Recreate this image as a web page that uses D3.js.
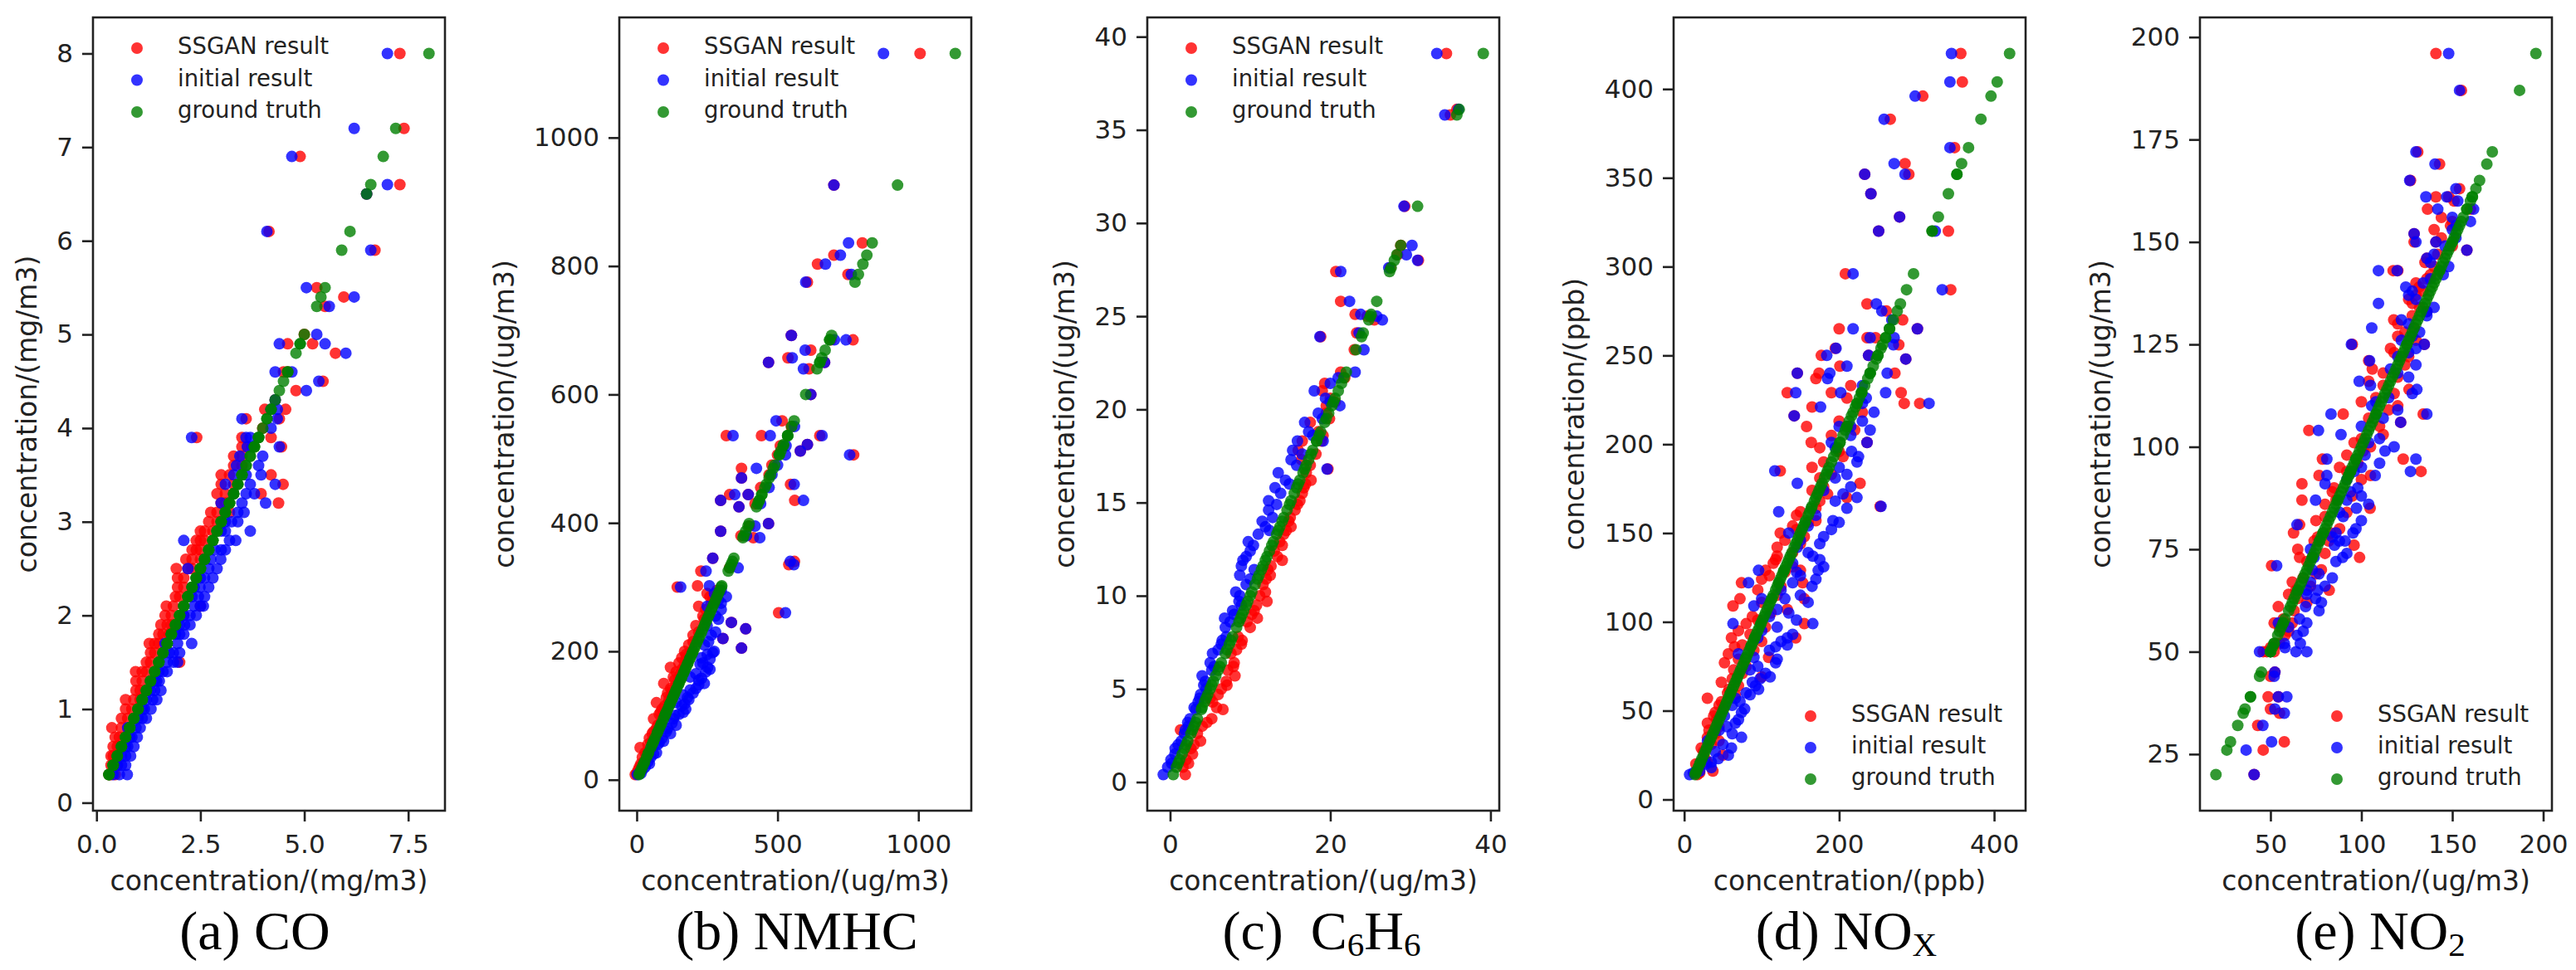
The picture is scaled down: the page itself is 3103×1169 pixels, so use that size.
<!DOCTYPE html>
<html>
<head>
<meta charset="utf-8">
<script src="https://cdn.jsdelivr.net/npm/d3@7"></script>
<style>
  body { margin: 0; background: #fff; }
</style>
</head>
<body>
<svg id="fig" width="3103" height="1169"></svg>
<script>
// rows are [ground truth, SSGAN result, initial result]
const coRows = [
  [0.3,0.35,0.55],[0.3,0.45,0.74],[0.4,0.35,0.5],[0.4,0.5,0.7],[0.5,0.5,0.82],[0.5,0.4,0.6],
  [0.6,0.4,0.7],[0.6,0.6,0.75],[0.7,0.55,0.98],[0.7,0.7,0.8],[0.8,0.37,0.75],[0.8,0.8,0.95],
  [0.9,0.6,1.0],[0.9,0.9,1.1],[1.0,0.85,1.31],[1.0,1.0,1.15],[1.1,0.7,1.2],[1.1,1.05,1.35],
  [1.2,0.95,1.4],[1.2,1.2,1.3],[1.3,1.1,1.51],[1.3,1.3,1.45],[1.4,0.94,1.5],[1.4,1.2,1.6],
  [1.5,2.0,1.95],[1.5,1.3,1.7],[1.6,1.4,1.85],[1.6,1.6,1.75],[1.7,1.27,2.29],[1.7,1.5,1.65],
  [1.8,1.5,1.9],[1.8,1.75,2.0],[1.9,1.55,2.12],[1.9,1.8,2.0],[2.0,1.8,2.4],[2.0,2.1,2.25],
  [2.1,1.68,2.57],[2.1,2.5,2.5],[2.2,1.9,2.3],[2.2,2.2,2.45],[2.3,1.95,2.49],[2.3,2.3,2.35],
  [2.4,2.1,2.6],[2.4,2.4,2.5],[2.5,1.92,2.2],[2.5,2.3,2.7],[2.6,2.15,2.99],[2.6,2.5,2.6],
  [2.7,2.3,2.85],[2.7,2.5,3.1],[2.8,2.4,2.1],[2.8,2.6,3.35],[2.9,2.6,3.7],[2.9,2.8,3.0],
  [3.0,2.9,3.1],[3.0,3.0,3.25],[3.1,2.75,3.1],[3.1,3.2,3.4],[3.2,4.38,4.07],[3.2,3.0,3.0],
  [3.3,3.96,3.8],[3.3,3.1,3.3],[3.4,3.0,3.1],[3.4,4.49,4.3],[3.5,3.2,3.3],[3.5,4.2,3.96],
  [3.6,3.3,3.37],[3.7,3.5,3.45],[3.8,3.63,3.63],[3.8,4.45,4.4],[3.9,2.41,2.29],[3.9,3.5,3.6],
  [3.9,4.2,3.7],[4.0,4.0,4.2],[4.1,3.6,3.5],[4.1,4.4,4.35],[4.2,4.05,4.2],[4.2,4.55,4.35],
  [4.3,4.3,4.3],[4.4,4.8,5.05],[4.5,5.45,5.35],[4.6,4.5,4.3],[4.6,4.6,4.7],[4.8,5.75,6.0],
  [4.9,4.6,4.4],[4.9,5.2,5.5],[5.0,5.0,5.3],[5.3,5.5,5.6],[5.4,5.95,6.2],[5.5,5.3,5.05],
  [5.9,6.7,6.6],[6.1,4.15,4.1],[6.5,6.5,6.5],[6.6,7.3,7.0],[6.9,4.9,4.7],[7.2,7.4,6.2],
  [8.0,7.3,7.0],
  [0.3,0.3,0.4],[0.4,0.45,0.6],[0.5,0.35,0.7],[0.6,0.5,0.9],[0.7,0.45,0.85],[0.8,0.6,1.05],
  [0.9,0.75,1.2],[1.0,0.7,1.1],[1.1,0.9,1.45],[1.2,1.05,1.55],[1.3,0.95,1.4],[1.4,1.1,1.7],
  [1.5,1.2,1.85],[1.6,1.3,2.0],[1.7,1.4,1.95],[1.8,1.6,2.1],[1.9,1.7,2.25],[2.0,1.65,2.1],
  [2.1,1.85,2.35],[2.2,2.0,2.6],[2.3,2.1,2.7],[2.4,1.95,2.8],[2.5,2.2,2.9],[2.6,2.3,2.75],
  [2.7,2.4,3.0],[2.8,2.5,3.2],[2.9,2.5,3.1],[3.0,2.7,3.4],[3.1,2.9,3.55],[3.2,3.1,3.5],
  [3.3,2.9,3.6],[3.4,3.3,3.7],[3.5,3.0,3.6],[3.6,3.5,3.9],[3.7,3.3,4.0],[3.8,3.5,3.75]
];

const nmhcRows = [
  [8,-5,2],[15,5,20],[20,10,30],[28,25,40],[35,20,50],[42,30,70],[50,12,54],[58,50,80],
  [65,45,90],[72,55,120],[80,70,110],[88,85,125],[95,60,130],[102,80,150],[110,90,174],
  [115,100,160],[120,70,140],[128,105,180],[135,110,200],[142,120,210],[150,96,240],
  [155,135,220],[160,130,190],[168,140,245],[175,120,252],[182,150,235],[190,160,230],
  [195,175,250],[200,170,275],[205,372,372],[210,185,240],[220,306,306],[225,200,265],
  [235,387,387],[240,210,250],[245,336,336],[255,235,280],[260,504,528],[265,245,300],
  [270,220,250],[280,270,290],[285,260,318],[290,250,276],[295,285,300],[300,144,156],
  [302,216,258],[325,228,246],[330,330,360],[335,540,558],[340,560,545],[345,270,270],
  [377,414,437],[380,370,390],[387,298,298],[395,400,420],[399,468,468],[425,363,363],
  [430,420,440],[435,298,298],[435,561,592],[444,330,348],[444,396,396],[455,440,470],
  [460,546,559],[470,372,372],[475,470,480],[485,372,425],[490,480,500],[506,770,756],
  [506,500,528],[512,581,581],[520,510,530],[522,606,606],[536,318,342],[536,443,474],
  [536,650,658],[550,549,560],[559,516,495],[600,618,618],[640,612,592],[650,468,468],
  [650,667,667],[657,537,552],[669,618,598],[685,768,743],[685,690,702],[692,549,549],
  [775,606,600],[787,750,762],[803,642,670],[817,700,723],[836,801,752],[926,700,700],
  [1131,1006,876],
  [10,0,15],[25,15,45],[40,35,60],[55,40,75],[60,55,95],[75,60,105],[85,75,140],[100,95,135],
  [105,85,165],[118,110,170],[125,115,185],[132,125,165],[140,125,190],[148,140,220],
  [158,150,230],[165,155,210],[172,160,260],[180,170,225],[188,175,260],[198,190,270],
  [215,200,255],[230,220,280],[250,240,290],[275,265,300]
];

const benzeneRows = [
  [0.4,1.9,-0.85],[0.8,1.6,-0.3],[1.2,2.0,0.1],[1.5,2.8,0.6],[1.8,2.6,0.63],[2.2,3.8,1.4],
  [2.6,3.4,1.8],[2.8,1.3,1.9],[3.0,4.0,2.3],[3.4,5.2,2.5],[3.9,6.6,3.2],[4.3,5.3,3.5],
  [4.7,6.0,3.8],[5.0,6.4,4.5],[5.4,7.0,4.4],[5.7,8.1,4.0],[6.0,7.2,5.2],[6.4,8.0,5.0],
  [6.9,7.6,5.3],[7.4,8.9,6.4],[7.8,8.5,7.0],[8.3,10.0,6.9],[8.8,10.9,6.8],[9.2,10.5,7.8],
  [9.7,12.1,8.6],[10.2,11.9,8.2],[10.6,11.6,9.5],[11.1,12.5,8.7],[11.6,12.6,8.9],[11.9,14.0,9.1],
  [12.4,13.0,10.0],[12.9,13.7,9.75],[13.3,14.2,11.0],[13.7,15.1,11.9],[14.2,15.0,12.8],
  [14.6,15.6,12.3],[15.1,16.2,12.3],[15.5,16.5,13.8],[15.8,16.7,13.1],[16.2,17.6,14.4],
  [16.6,17.0,13.5],[16.8,19.7,19.6],[17.3,16.4,15.1],[17.8,16.0,15.3],[18.3,16.5,15.9],
  [18.3,18.9,19.1],[18.8,18.5,17.3],[19.3,17.5,16.8],[19.8,19.5,18.5],[20.2,19.5,21.2],
  [20.6,20.0,19.4],[21.0,19.0,18.0],[21.4,19.3,20.0],[21.7,21.8,21.0],[22.0,21.3,23.1],
  [23.2,23.0,24.2],[23.9,18.8,18.7],[24.1,23.3,23.6],[24.8,25.5,26.5],[25.0,24.6,25.8],
  [25.1,23.1,23.8],[25.8,21.3,22.4],[27.4,20.7,21.3],[27.6,27.5,27.3],[28.0,31.0,30.9],
  [28.3,28.4,29.5],[28.8,28.8,30.2],[30.9,29.3,29.2],[35.8,35.0,34.3],[36.1,35.8,36.0],
  [39.1,34.5,33.3],
  [1.0,2.3,0.2],[2.0,3.0,1.0],[3.2,4.6,2.2],[4.0,5.8,3.0],[4.5,5.0,3.7],[5.2,7.1,4.2],
  [6.2,7.9,5.5],[7.1,8.3,6.0],[7.6,9.0,6.5],[8.6,9.6,7.5],[9.0,10.2,8.0],[9.5,10.8,8.9],
  [10.0,11.2,8.7],[10.9,12.0,10.0],[11.4,12.2,10.5],[12.1,13.4,9.5],[12.7,14.0,10.4],
  [13.5,14.5,12.4],[14.0,14.8,11.5],[14.9,15.9,13.3],[16.0,16.9,14.9],[17.0,17.5,15.8],
  [17.6,18.2,16.5],[18.6,19.1,17.8],[19.5,19.9,19.0],[20.4,20.6,20.0]
];

const noxRows = [
  [14,17,7],[16,37,20],[18,20,35],[21,30,35],[25,50,57],[29,22,61],[33,45,30],[35,30,74],
  [39,32,45],[43,30,66],[47,38,52],[49,40,74],[53,45,62],[57,30,66],[60,56,80],[62,58,96],
  [66,48,88],[69,100,111],[73,64,85],[77,52,118],[80,109,90],[82,57,70],[87,75,133],
  [91,61,95],[91,144,133],[95,70,100],[99,155,166],[99,80,63],[103,88,110],[107,133,120],
  [109,63,90],[113,72,100],[113,155,130],[118,95,125],[122,74,83],[122,153,140],[126,110,150],
  [129,105,96],[129,150,173],[133,115,140],[137,120,166],[142,120,146],[146,130,150],
  [150,124,135],[154,140,160],[157,170,192],[160,145,170],[162,150,122],[165,253,254],
  [170,210,223],[174,165,180],[178,227,146],[181,175,195],[185,124,117],[190,180,223],
  [196,200,216],[201,164,236],[201,236,190],[205,190,215],[210,158,200],[210,212,215],
  [216,142,142],[221,165,176],[223,284,316],[223,304,230],[229,133,144],[229,280,260],
  [229,190,202],[233,215,230],[237,170,185],[240,174,188],[240,272,262],[240,146,146],
  [244,201,210],[248,286,286],[250,177,184],[250,238,238],[254,195,196],[256,277,270],
  [260,247,271],[260,236,240],[265,200,218],[265,301,301],[270,282,268],[275,261,255],
  [279,236,248],[287,344,333],[296,208,218],[320,251,251],[320,341,324],[328,278,278],
  [341,241,241],[352,233,233],[352,290,285],[358,285,271],[367,349,343],[383,266,258],
  [396,308,298],[404,359,343],[420,357,345],
  [15,20,12],[20,15,28],[23,27,44],[27,25,40],[31,35,50],[37,40,62],[41,45,55],[45,42,70],
  [51,50,78],[55,48,72],[59,66,85],[64,70,92],[68,62,98],[71,75,105],[75,80,95],[79,70,120],
  [84,90,110],[86,65,118],[89,100,125],[93,85,140],[97,105,120],[101,95,145],[105,112,135],
  [111,100,160],[115,120,150],[120,125,165],[124,100,170],[128,130,145],[131,140,180],
  [135,118,175],[139,140,160],[144,150,175],[148,155,180],[152,145,190],[156,160,200],
  [164,170,210],[168,175,195],[172,185,205],[176,180,215],[183,190,210],[187,165,200],
  [193,205,225],[198,175,195],[208,220,240],[213,200,230],[218,230,245],[226,210,235]
];

const no2Rows = [
  [20,41,41],[26,46,36.6],[28,57.6,50.6],[32,43,45.8],[35,55,57.6],[36,50,52.4],[39,48.7,59],
  [39,54.3,54.3],[44,50,52],[45,52.4,52.4],[50,46,44],[50,48,64],[50,52,70],[52,55,66.4],
  [52,53,57.6],[54,58,64.6],[56,55,60],[57,52,54.3],[57,62,70],[60,63,76.7],[61,54.3,69.3],
  [63,65,74.8],[65,82.3,70],[65,64,76],[67,62,72],[69,75,76.7],[70,78,73],[71,50.6,53.4],
  [73,99,89.7],[73,66,74],[75,65,72],[76,96,85.2],[77,82,91],[77,74,87.9],[79,62.7,95.4],
  [79,83,86],[81,66,64.6],[83,80,90],[85,104.8,97.3],[87,67.3,74.8],[87,86,92],[89,84,94],
  [91,67.3,80],[93,76.7,81],[93,105,107.6],[94,132.8,127],[94,92,96],[95,88,100],[97,78.6,81],
  [97,123,130],[99,101,113],[101,96,104],[103,112,88.8],[104,71.1,76.4],[106,121.6,121.6],
  [108,134,136],[108,90,83.3],[110,120,105.7],[112,108,115],[114,126.2,130.5],[116,104,98.8],
  [118,112,120],[120,124,130],[121,104,104.5],[123,118,126],[125,95,94.5],[125,134.6,134.6],
  [127,120,128],[129,129,105.7],[131,117.8,122],[133,136,136],[135,128,109.4],[137,130,126],
  [139,131.8,124.4],[141,136,138],[143,117.5,109.4],[143,120,119.7],[145,135,138],[146,136,136],
  [148,158,158],[150,141,141],[150,129,130],[152,129,129],[154,149,152],[156,144,150],
  [158,136.4,142],[158,160,161.7],[160,151,153],[161,141,135.5],[161,148,147],[163,154,152],
  [165,127,126.6],[169,143,140.5],[172,131,130],[187,155,154],[196,141,148],
  [51,50,58],[55,60,68],[58,57,66],[62,70,78],[64,60,70],[66,72,80],[68,68,84],[72,70,86],
  [74,80,92],[78,76,84],[80,88,97],[82,75,100],[84,92,88],[86,80,104],[88,95,100],[90,85,98],
  [92,100,92],[96,98,110],[98,92,102],[100,105,118],[102,100,110],[105,110,100],[107,104,112],
  [109,115,120],[111,100,108],[113,118,128],[115,112,105],[117,120,126],[119,106,116],
  [122,126,120],[124,116,130],[126,130,122],[128,124,132],[130,120,126],[132,128,136],
  [134,132,140],[136,126,130],[138,134,128],[140,130,134],[142,138,145],[144,140,148],
  [147,142,140],[149,150,146],[151,144,152],[153,140,150],[155,150,160]
];

const coXTicks = [0, 2.5, 5, 7.5];
const coYTicks = [0, 1, 2, 3, 4, 5, 6, 7, 8];
const nmhcXTicks = [0, 500, 1000];
const nmhcYTicks = [0, 200, 400, 600, 800, 1000];
const benzeneXTicks = [0, 20, 40];
const benzeneYTicks = [0, 5, 10, 15, 20, 25, 30, 35, 40];
const noxXTicks = [0, 200, 400];
const noxYTicks = [0, 50, 100, 150, 200, 250, 300, 350, 400];
const no2XTicks = [50, 100, 150, 200];
const no2YTicks = [25, 50, 75, 100, 125, 150, 175, 200];

const units = ["concentration/(mg/m3)", "concentration/(ug/m3)", "concentration/(ug/m3)",
               "concentration/(ppb)", "concentration/(ug/m3)"];
// caption pieces: [text, is subscript]
const captions = [
  [["(a) CO", false]],
  [["(b) NMHC", false]],
  [["(c)  C", false], ["6", true], ["H", false], ["6", true]],
  [["(d) NO", false], ["X", true]],
  [["(e) NO", false], ["2", true]]
];
const seriesNames = ["SSGAN result", "initial result", "ground truth"];

// layout
const seriesColors = ["#ff0000", "#0000ff", "#008000"];
const frameLefts = [112, 746, 1382, 2016, 2650];
const frameW = 424, frameTop = 21, frameBottom = 977;
const captionX = [307, 960, 1592, 2224, 2867];
const legendPlace = ["top", "top", "top", "bottom", "bottom"];
const sans = "'DejaVu Sans', sans-serif";
const ink = "#222";

const intFmt = d3.format("d");
const panels = [
  { rows: coRows, xt: coXTicks, yt: coYTicks, xFmt: d3.format(".1f"), yFmt: intFmt },
  { rows: nmhcRows, xt: nmhcXTicks, yt: nmhcYTicks, xFmt: intFmt, yFmt: intFmt },
  { rows: benzeneRows, xt: benzeneXTicks, yt: benzeneYTicks, xFmt: intFmt, yFmt: intFmt },
  { rows: noxRows, xt: noxXTicks, yt: noxYTicks, xFmt: intFmt, yFmt: intFmt },
  { rows: no2Rows, xt: no2XTicks, yt: no2YTicks, xFmt: intFmt, yFmt: intFmt }
];

const svg = d3.select("#fig");
svg.append("rect").attr("width", 3103).attr("height", 1169).attr("fill", "#fff");

function padded(ext) {
  const m = (ext[1] - ext[0]) * 0.05;
  return [ext[0] - m, ext[1] + m];
}

panels.forEach((p, k) => {
  const left = frameLefts[k], right = left + frameW;
  const g = svg.append("g");

  const allX = p.rows.flatMap((r) => r);
  const x = d3.scaleLinear().domain(padded(d3.extent(allX))).range([left, right]);
  const y = d3.scaleLinear().domain(padded(d3.extent(p.rows, (r) => r[0]))).range([frameBottom, frameTop]);

  // x axis
  const gx = g.append("g")
    .attr("transform", `translate(0,${frameBottom})`)
    .call(d3.axisBottom(x).tickValues(p.xt).tickFormat(p.xFmt).tickSize(13).tickPadding(16));
  gx.select(".domain").remove();

  // y axis
  const gy = g.append("g")
    .attr("transform", `translate(${left},0)`)
    .call(d3.axisLeft(y).tickValues(p.yt).tickFormat(p.yFmt).tickSize(13).tickPadding(11));
  gy.select(".domain").remove();

  [gx, gy].forEach((a) => {
    a.attr("font-family", sans).attr("font-size", 31);
    a.selectAll("line").attr("stroke", ink).attr("stroke-width", 2.6);
    a.selectAll("text").attr("fill", ink);
  });

  // frame
  g.append("rect")
    .attr("x", left).attr("y", frameTop)
    .attr("width", frameW).attr("height", frameBottom - frameTop)
    .attr("fill", "none").attr("stroke", ink).attr("stroke-width", 2.6);

  // scatter: red, then blue, then green
  const series = [
    p.rows.map((r) => [r[1], r[0]]),
    p.rows.map((r) => [r[2], r[0]]),
    p.rows.map((r) => [r[0], r[0]])
  ];
  series.forEach((pts, s) => {
    g.append("g").selectAll("circle")
      .data(pts)
      .enter()
      .append("circle")
      .attr("cx", (d) => x(d[0]))
      .attr("cy", (d) => y(d[1]))
      .attr("r", 7)
      .attr("fill", seriesColors[s])
      .attr("fill-opacity", 0.8);
  });

  // legend
  const lg = g.append("g");
  seriesNames.forEach((name, s) => {
    let mx, tx, base;
    if (legendPlace[k] === "top") {
      mx = left + 53; tx = left + 102; base = frameTop + 44 + s * 38.5;
    } else {
      mx = right - 259; tx = right - 210; base = frameBottom - 107 + s * 38;
    }
    lg.append("circle").attr("cx", mx).attr("cy", base - 7).attr("r", 7)
      .attr("fill", seriesColors[s]).attr("fill-opacity", 0.8);
    lg.append("text").attr("x", tx).attr("y", base)
      .attr("font-family", sans).attr("font-size", 27.5).attr("fill", ink)
      .text(name);
  });

  // axis labels
  g.append("text")
    .attr("x", (left + right) / 2).attr("y", 1073)
    .attr("text-anchor", "middle")
    .attr("font-family", sans).attr("font-size", 33).attr("fill", ink)
    .text(units[k]);

  const bb = gy.node().getBBox();
  const ly = (frameTop + frameBottom) / 2;
  g.append("text")
    .attr("transform", `translate(${left + bb.x - 36},${ly}) rotate(-90)`)
    .attr("text-anchor", "middle")
    .attr("dominant-baseline", "central")
    .attr("font-family", sans).attr("font-size", 33).attr("fill", ink)
    .text(units[k]);

  // caption
  const cap = g.append("text")
    .attr("x", captionX[k]).attr("y", 1144)
    .attr("text-anchor", "middle")
    .attr("font-family", "'Liberation Serif', 'Times New Roman', serif")
    .attr("font-size", 66).attr("fill", "#000")
    .style("white-space", "pre");
  let shifted = false;
  captions[k].forEach(([txt, sub]) => {
    const t = cap.append("tspan").text(txt);
    if (sub) {
      t.attr("font-size", 41).attr("dy", shifted ? 0 : 8);
      shifted = true;
    } else if (shifted) {
      t.attr("dy", -8);
      shifted = false;
    }
  });
});
</script>
</body>
</html>
